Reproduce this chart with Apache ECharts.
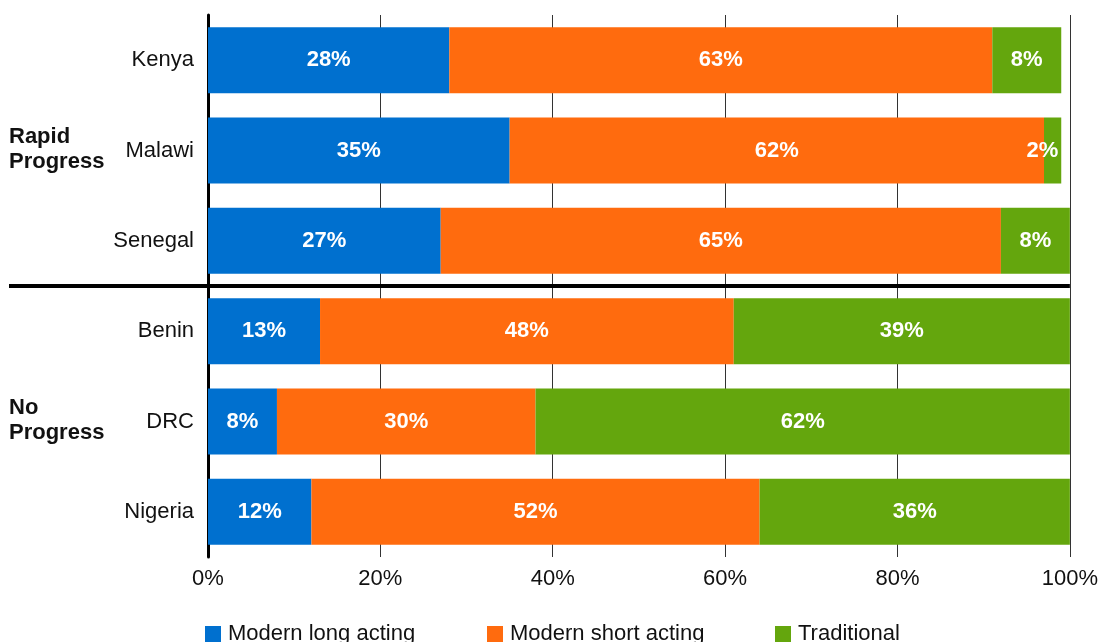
<!DOCTYPE html>
<html>
<head>
<meta charset="utf-8">
<script src="https://cdn.jsdelivr.net/npm/echarts@6/dist/echarts.min.js"></script>
<style>
html,body{margin:0;padding:0;background:#fff;}
#c{width:1101px;height:642px;}
</style>
</head>
<body>
<div id="c"></div>
<script>
const countries = ['Kenya', 'Malawi', 'Senegal', 'Benin', 'DRC', 'Nigeria'];
const longActing = [28, 35, 27, 13, 8, 12];
const shortActing = [63, 62, 65, 48, 30, 52];
const traditional = [8, 2, 8, 39, 62, 36];
const seriesNames = ['Modern long acting', 'Modern short acting', 'Traditional'];
const groups = [
  { label: 'Rapid\nProgress', center: 'Malawi' },
  { label: 'No\nProgress', center: 'DRC' }
];
const xTicks = [0, 20, 40, 60, 80, 100];

const FONT = '"Liberation Sans", Arial, sans-serif';
const colors = ['#0070CF', '#FF6B0E', '#64A60D'];

const chart = echarts.init(document.getElementById('c'), null, { renderer: 'canvas' });

const labelCfg = {
  show: true,
  position: 'inside',
  formatter: '{c}%',
  color: '#fff',
  fontFamily: FONT,
  fontSize: 22,
  fontWeight: 'bold'
};

function mkData(arr, seriesIdx) {
  return arr.map((v, i) => {
    if (seriesIdx === 2 && v <= 3) {
      return { value: v, label: { position: 'insideRight', distance: 3 } };
    }
    return v;
  });
}

const series = [longActing, shortActing, traditional].map((arr, si) => ({
  name: seriesNames[si],
  type: 'bar',
  stack: 'total',
  barWidth: 66,
  itemStyle: { color: colors[si] },
  label: labelCfg,
  data: mkData(arr, si),
  z: 3
}));

const legendLefts = [200, 482, 770];
const legends = seriesNames.map((n, i) => ({
  data: [n],
  left: legendLefts[i],
  top: 618,
  itemWidth: 16,
  itemHeight: 16,
  icon: 'rect',
  selectedMode: false,
  textStyle: { fontFamily: FONT, fontSize: 22, color: '#111', padding: [0, 0, 0, 2] }
}));

chart.setOption({
  animation: false,
  backgroundColor: '#fff',
  grid: { left: 208, right: 31, top: 15, bottom: 85, containLabel: false },
  legend: legends,
  xAxis: {
    type: 'value',
    min: 0,
    max: 100,
    interval: 20,
    axisLine: { show: false },
    axisTick: { show: false },
    splitLine: { show: true, lineStyle: { color: '#333', width: 1 } },
    axisLabel: {
      formatter: v => xTicks.includes(v) ? v + '%' : '',
      fontFamily: FONT,
      fontSize: 22,
      color: '#111',
      margin: 11
    }
  },
  yAxis: {
    type: 'category',
    data: countries,
    inverse: true,
    axisLine: { show: true, lineStyle: { color: '#000', width: 3 } },
    axisTick: { show: false },
    axisLabel: { fontFamily: FONT, fontSize: 22, color: '#111', margin: 14 }
  },
  series: series
});

function addGraphics() {
  const ySen = chart.convertToPixel({ yAxisIndex: 0 }, 'Senegal');
  const yBen = chart.convertToPixel({ yAxisIndex: 0 }, 'Benin');
  const ySep = (ySen + yBen) / 2;
  const xRight = chart.convertToPixel({ xAxisIndex: 0 }, 100);
  const elems = [{
    type: 'line',
    shape: { x1: 9, y1: ySep, x2: xRight, y2: ySep },
    style: { stroke: '#000', lineWidth: 4 },
    z: 10
  }];
  groups.forEach(g => {
    const yc = chart.convertToPixel({ yAxisIndex: 0 }, g.center);
    elems.push({
      type: 'text',
      left: 9,
      top: yc - 26,
      style: {
        text: g.label,
        fontFamily: FONT,
        fontSize: 22,
        fontWeight: 'bold',
        fill: '#111',
        lineHeight: 25
      },
      z: 10
    });
  });
  chart.setOption({ graphic: elems });
}
addGraphics();
</script>
</body>
</html>
